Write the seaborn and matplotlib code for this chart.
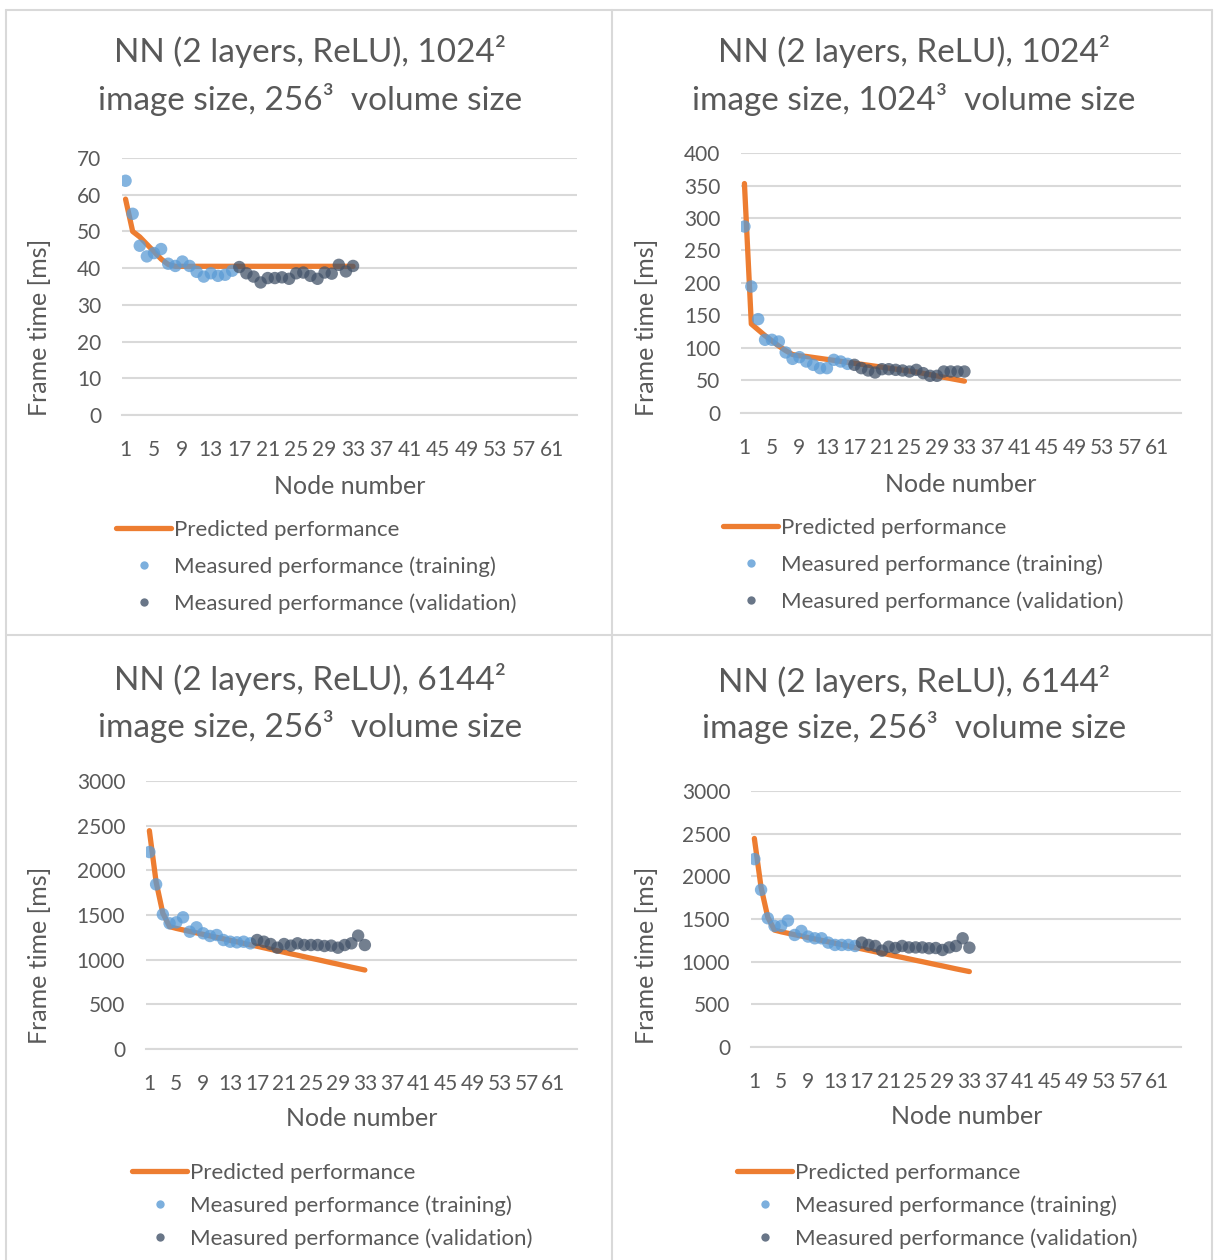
import matplotlib
matplotlib.use("Agg")
import matplotlib.pyplot as plt
from matplotlib.lines import Line2D
import seaborn as sns
import pandas as pd
import numpy as np

# ---------------- data ----------------
train_nodes = list(range(1, 17))
valid_nodes = list(range(17, 34))
pred_nodes = list(range(1, 34))

p1_pred = [58.8, 50.0, 48.5, 46.5, 44.5, 42.5, 41.0, 40.5, 40.5, 40.5, 40.5, 40.5, 40.5, 40.5, 40.5,
           40.5, 40.5, 40.5, 40.5, 40.5, 40.5, 40.5, 40.5, 40.5, 40.5, 40.5, 40.5, 40.5, 40.5, 40.5,
           40.5, 40.5, 40.5]
p1_train = [63.8, 54.8, 46.1, 43.2, 44.1, 45.2, 41.2, 40.6, 41.8, 40.6, 39.0, 37.7, 38.6, 37.9, 38.2, 39.3]
p1_valid = [40.3, 38.6, 37.7, 36.1, 37.3, 37.3, 37.5, 37.1, 38.6, 38.8, 37.9, 37.1, 38.8, 38.5, 40.9,
            39.1, 40.6]

p2_pred = [353, 137, 128, 119, 111, 103, 96, 90, 88, 87, 85.5, 84, 82.5, 81, 79.5, 78, 76.5, 75,
           73.5, 72, 70.5, 69, 67.5, 66, 64.5, 63, 61, 59, 57, 55, 53, 51, 49]
p2_train = [286.9, 194.6, 144.4, 112.6, 112.6, 110.0, 93.1, 83.3, 85.9, 79.2, 74.1, 69.0, 69.0, 81.8,
            79.2, 75.6]
p2_valid = [74.1, 69.0, 65.4, 62.3, 67.4, 67.4, 66.4, 65.4, 63.8, 66.4, 61.3, 57.2, 57.2, 63.8, 63.8,
            63.8, 63.8]

p3_pred = [2444, 1870, 1520, 1370, 1350, 1333, 1316, 1300, 1283, 1266, 1250, 1233, 1216, 1200, 1183,
           1166, 1150, 1133, 1116, 1100, 1083, 1066, 1050, 1033, 1016, 1000, 983, 966, 950, 933, 916,
           900, 884]
p3_train = [2205, 1843, 1507, 1407, 1418, 1474, 1313, 1362, 1295, 1265, 1276, 1220, 1201, 1194, 1201, 1183]
p3_valid = [1220, 1201, 1175, 1134, 1175, 1157, 1183, 1164, 1164, 1164, 1153, 1157, 1134, 1164, 1183,
            1269, 1164]

p4_pred = [2444, 1870, 1520, 1370, 1350, 1333, 1316, 1300, 1283, 1266, 1250, 1233, 1216, 1200, 1183,
           1166, 1150, 1133, 1116, 1100, 1083, 1066, 1050, 1033, 1016, 1000, 983, 966, 950, 933, 916,
           900, 884]
p4_train = [2202, 1842, 1509, 1419, 1419, 1481, 1313, 1360, 1294, 1274, 1274, 1223, 1196, 1196, 1196, 1184]
p4_valid = [1223, 1196, 1184, 1129, 1175, 1160, 1184, 1167, 1167, 1167, 1157, 1160, 1137, 1167, 1184,
            1274, 1164]

titles = ["NN (2 layers, ReLU), 1024\u00b2\nimage size, 256\u00b3  volume size",
          "NN (2 layers, ReLU), 1024\u00b2\nimage size, 1024\u00b3  volume size",
          "NN (2 layers, ReLU), 6144\u00b2\nimage size, 256\u00b3  volume size",
          "NN (2 layers, ReLU), 6144\u00b2\nimage size, 256\u00b3  volume size"]
y_ticks = [list(range(0, 71, 10)), list(range(0, 401, 50)),
           list(range(0, 3001, 500)), list(range(0, 3001, 500))]
x_tick_labels = [str(v) for v in range(1, 62, 4)]
legend_labels = ["Predicted performance", "Measured performance (training)",
                 "Measured performance (validation)"]
x_label = "Node number"
y_label = "Frame time [ms]"

# ---------------- style ----------------
sns.set_theme(style="white")
plt.rcParams['font.family'] = ['Lato', 'DejaVu Sans']

W, H = 1214, 1260
fig = plt.figure(figsize=(W / 100, H / 100), dpi=100)
fig.patch.set_facecolor("white")

TXT = "#595959"
GRID = "#D9D9D9"
ORANGE = "#ED7D31"
BLUE = "#5B9BD5"
GRAY = "#44546A"

def fx(x):
    return x / W

def fy(y):
    return 1 - y / H

panels = [
    dict(box=(122, 158, 577, 415), pred=p1_pred, train=p1_train, valid=p1_valid,
         title_y=(52, 99), title_x=310, ylab=(40, 327), xlab=(350, 486),
         leg=(116, 520), legsp=0.73),
    dict(box=(741, 153, 1181, 413), pred=p2_pred, train=p2_train, valid=p2_valid,
         title_y=(52, 99), title_x=914, ylab=(646, 327), xlab=(961, 484),
         leg=(723, 518), legsp=0.73),
    dict(box=(146, 781, 577, 1049), pred=p3_pred, train=p3_train, valid=p3_valid,
         title_y=(680, 727), title_x=310, ylab=(40, 955), xlab=(362, 1118),
         leg=(132, 1163), legsp=0.55),
    dict(box=(751, 791, 1181, 1047), pred=p4_pred, train=p4_train, valid=p4_valid,
         title_y=(681, 728), title_x=914, ylab=(646, 955), xlab=(967, 1117),
         leg=(737, 1163), legsp=0.55),
]

for i, p in enumerate(panels):
    l, t, r, b = p["box"]
    ax = fig.add_axes([fx(l), fy(b), (r - l) / W, (b - t) / H])
    ax.set_facecolor("white")

    sns.lineplot(x=pred_nodes, y=p["pred"], color=ORANGE, linewidth=3.8, ax=ax,
                 solid_capstyle="round", zorder=2)
    sns.scatterplot(x=train_nodes, y=p["train"], color=BLUE, s=80, alpha=0.75,
                    edgecolor="none", ax=ax, zorder=3)
    sns.scatterplot(x=valid_nodes, y=p["valid"], color=GRAY, s=80, alpha=0.75,
                    edgecolor="none", ax=ax, zorder=4)

    yt = y_ticks[i]
    ax.set_ylim(yt[0], yt[-1])
    ax.set_xlim(0.5, 64.5)
    ax.set_yticks(yt)
    ax.set_yticklabels([str(v) for v in yt])
    ax.set_xticks(range(1, 62, 4))
    ax.set_xticklabels(x_tick_labels)
    ax.set_xticks(np.arange(0.5, 65, 1), minor=True)
    ax.tick_params(axis="x", which="major", length=0, pad=18, labelsize=15, labelcolor=TXT)
    ax.tick_params(axis="x", which="minor", length=6, width=1.2, color=GRID, direction="out")
    ax.tick_params(axis="y", length=0, pad=15, labelsize=15, labelcolor=TXT)
    ax.yaxis.grid(True, color=GRID, linewidth=1.5)
    ax.xaxis.grid(False)
    ax.set_axisbelow(True)
    for s in ["top", "right", "left"]:
        ax.spines[s].set_visible(False)
    ax.spines["bottom"].set_color(GRID)
    ax.spines["bottom"].set_linewidth(1.5)
    ax.set_xlabel("")
    ax.set_ylabel("")
    if ax.get_legend():
        ax.get_legend().remove()

    # titles
    line1, line2 = titles[i].split("\n")
    fig.text(fx(p["title_x"]), fy(p["title_y"][0]), line1, ha="center", va="center",
             fontsize=24, color=TXT)
    fig.text(fx(p["title_x"]), fy(p["title_y"][1]), line2, ha="center", va="center",
             fontsize=24, color=TXT)
    # axis titles
    fig.text(fx(p["ylab"][0]), fy(p["ylab"][1]), y_label, rotation=90, ha="center",
             va="center", fontsize=18, color=TXT)
    fig.text(fx(p["xlab"][0]), fy(p["xlab"][1]), x_label, ha="center", va="center",
             fontsize=18, color=TXT)

    handles = [Line2D([0], [0], color=ORANGE, linewidth=3.8, solid_capstyle="round"),
               Line2D([0], [0], linestyle="none", marker="o", markersize=6,
                      markerfacecolor=BLUE, markeredgecolor="none", alpha=0.8),
               Line2D([0], [0], linestyle="none", marker="o", markersize=6,
                      markerfacecolor=GRAY, markeredgecolor="none", alpha=0.8)]
    fig.legend(handles, legend_labels, loc="upper left",
               bbox_to_anchor=(fx(p["leg"][0]), fy(p["leg"][1])),
               frameon=False, fontsize=16, handlelength=2.48, handletextpad=0.15,
               labelspacing=p["legsp"], borderpad=0, borderaxespad=0, labelcolor=TXT)

# panel borders
for x in [6, 612, 1212]:
    fig.add_artist(Line2D([fx(x), fx(x)], [fy(10), fy(1260)], color=GRID, linewidth=1.5))
for y in [10, 635]:
    fig.add_artist(Line2D([fx(6), fx(1212)], [fy(y), fy(y)], color=GRID, linewidth=1.5))

fig.savefig("out.png", dpi=100, facecolor="white")
